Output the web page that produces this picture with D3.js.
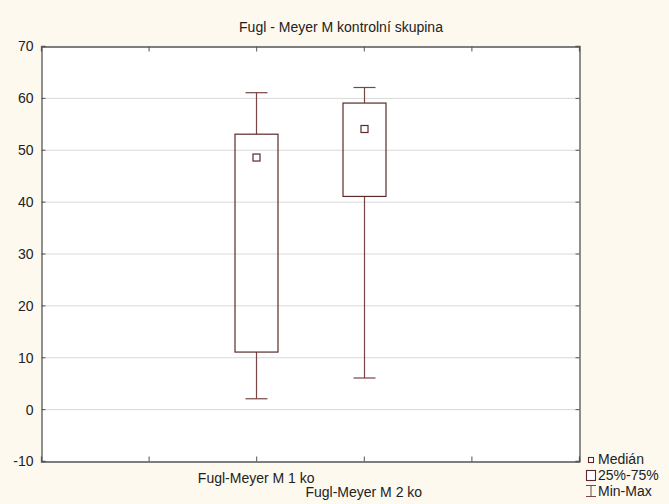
<!DOCTYPE html>
<html><head><meta charset="utf-8">
<script src="https://cdn.jsdelivr.net/npm/d3@7"></script>
<style>body{margin:0;background:#fdf9ef;} svg{display:block;}</style>
</head><body>
<script>
const title = "Fugl - Meyer M kontrolní skupina";
const categories = ["Fugl-Meyer M 1 ko", "Fugl-Meyer M 2 ko"];
const minVals = [2, 6];
const q1Vals = [11, 41];
const medianVals = [48.5, 54];
const q3Vals = [53, 59];
const maxVals = [61, 62];
const yTicks = [-10, 0, 10, 20, 30, 40, 50, 60, 70];
const legendLabels = ["Medián", "25%-75%", "Min-Max"];

const W = 669, H = 504;
const m = {left: 41, right: 90, top: 46, bottom: 43};
const FONT = "Arial, 'Liberation Sans', sans-serif";
const svg = d3.select("body").append("svg").attr("width", W).attr("height", H)
  .style("font-family", FONT);
svg.append("rect").attr("width", W).attr("height", H).attr("fill", "#fdf9ef");

const x = d3.scaleLinear().domain([0, 5]).range([m.left, W - m.right]);
const y = d3.scaleLinear().domain([-10, 70]).range([H - m.bottom, m.top]);
const catPos = [2, 3];

svg.append("rect").attr("x", m.left).attr("y", m.top)
  .attr("width", x(5) - x(0)).attr("height", y(-10) - y(70)).attr("fill", "#fff");

// grid
svg.append("g").selectAll("line").data(yTicks.filter(t => t > -10 && t < 70)).join("line")
  .attr("x1", m.left).attr("x2", x(5)).attr("y1", d => y(d) + 0.5).attr("y2", d => y(d) + 0.5)
  .attr("stroke", "#d9d9d9").attr("stroke-width", 1);

// axes
const axL = svg.append("g").attr("transform", `translate(${m.left + 0.5},0)`)
  .call(d3.axisLeft(y).tickValues(yTicks).tickSize(-4).tickPadding(8).tickFormat(d => String(d)));
const axR = svg.append("g").attr("transform", `translate(${x(5) + 0.5},0)`)
  .call(d3.axisRight(y).tickValues(yTicks).tickSize(-4).tickFormat(""));
const axB = svg.append("g").attr("transform", `translate(0,${y(-10) + 0.5})`)
  .call(d3.axisBottom(x).tickValues([1, 2, 3, 4]).tickSize(-5).tickFormat(""));
const axT = svg.append("g").attr("transform", `translate(0,${y(70) + 0.5})`)
  .call(d3.axisTop(x).tickValues([1, 2, 3, 4]).tickSize(-5).tickFormat(""));
[axL, axR, axB, axT].forEach(a => {
  a.select(".domain").attr("stroke", "#555").attr("stroke-width", 1.3);
  a.selectAll(".tick line").attr("stroke", "#555");
  a.selectAll("text").attr("font-size", 14).attr("fill", "#222")
    .style("font-family", FONT);
});
axL.selectAll(".tick text").attr("dy", "0.35em");

// category labels
svg.append("g").selectAll("text").data(categories).join("text")
  .attr("x", (d, i) => x(catPos[i])).attr("y", (d, i) => 483 + i * 14)
  .attr("text-anchor", "middle").attr("font-size", 14).attr("fill", "#222").text(d => d);

// title
svg.append("text").attr("x", 341).attr("y", 32).attr("text-anchor", "middle")
  .attr("font-size", 14).attr("fill", "#222").text(title);

// boxes
const boxW = 43, capW = 22, med = 7;
const stroke = "#5b2a2a", whisk = "#7a4545";
const g = svg.append("g");
categories.forEach((c, i) => {
  const cx = Math.round(x(catPos[i])) + 0.5;
  g.append("line").attr("x1", cx).attr("x2", cx).attr("y1", y(maxVals[i])).attr("y2", y(q3Vals[i]))
    .attr("stroke", whisk).attr("stroke-width", 1.2);
  g.append("line").attr("x1", cx).attr("x2", cx).attr("y1", y(q1Vals[i])).attr("y2", y(minVals[i]))
    .attr("stroke", whisk).attr("stroke-width", 1.2);
  g.append("line").attr("x1", cx - capW / 2).attr("x2", cx + capW / 2).attr("y1", y(maxVals[i])).attr("y2", y(maxVals[i]))
    .attr("stroke", whisk).attr("stroke-width", 1.2);
  g.append("line").attr("x1", cx - capW / 2).attr("x2", cx + capW / 2).attr("y1", y(minVals[i])).attr("y2", y(minVals[i]))
    .attr("stroke", whisk).attr("stroke-width", 1.2);
  g.append("rect").attr("x", cx - boxW / 2).attr("y", y(q3Vals[i]))
    .attr("width", boxW).attr("height", y(q1Vals[i]) - y(q3Vals[i]))
    .attr("fill", "none").attr("stroke", stroke).attr("stroke-width", 1.2);
  g.append("rect").attr("x", cx - med / 2).attr("y", y(medianVals[i]) - med / 2)
    .attr("width", med).attr("height", med)
    .attr("fill", "#fff").attr("stroke", stroke).attr("stroke-width", 1.2);
});

// legend
const lg = svg.append("g");
lg.append("rect").attr("x", 588.5).attr("y", 457.5).attr("width", 5).attr("height", 5)
  .attr("fill", "#fff").attr("stroke", stroke).attr("stroke-width", 1.1);
lg.append("rect").attr("x", 586.5).attr("y", 470.5).attr("width", 9).attr("height", 10)
  .attr("fill", "#fff").attr("stroke", stroke).attr("stroke-width", 1.1);
lg.append("line").attr("x1", 591).attr("x2", 591).attr("y1", 485).attr("y2", 496).attr("stroke", whisk);
lg.append("line").attr("x1", 586).attr("x2", 596).attr("y1", 485.5).attr("y2", 485.5).attr("stroke", whisk);
lg.append("line").attr("x1", 586).attr("x2", 596).attr("y1", 496.5).attr("y2", 496.5).attr("stroke", whisk);
lg.selectAll("text").data(legendLabels).join("text")
  .attr("x", 598).attr("y", (d, i) => 464 + i * 16).attr("font-size", 14).attr("fill", "#222").text(d => d);
</script>
</body></html>
